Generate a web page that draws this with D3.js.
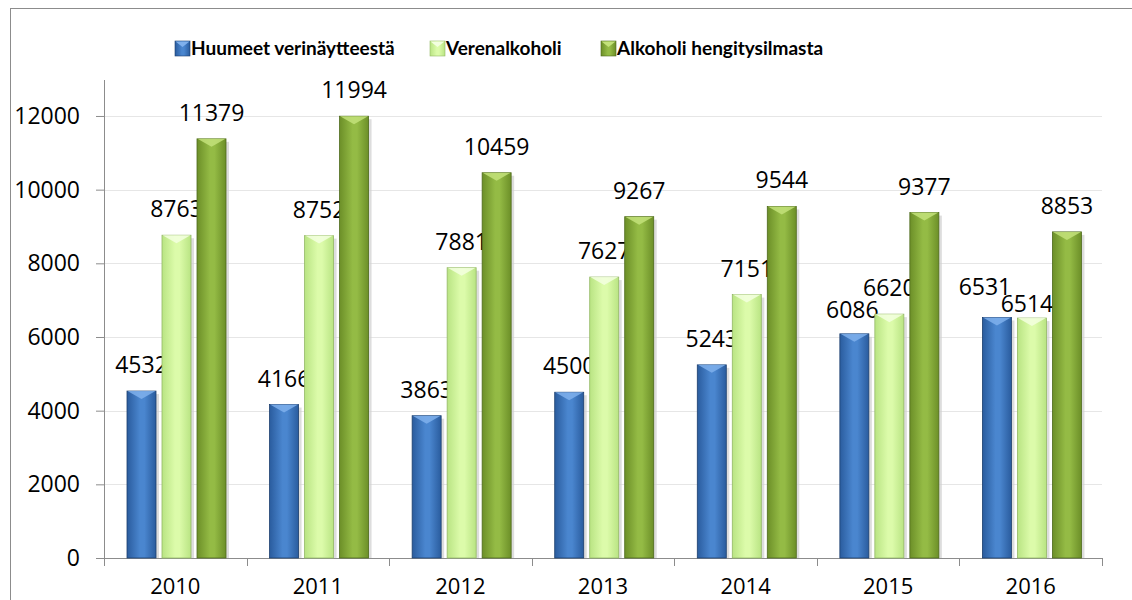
<!DOCTYPE html>
<html>
<head>
<meta charset="utf-8">
<script src="https://cdn.jsdelivr.net/npm/d3@7"></script>
<style>
  body { margin: 0; background: #fff; }
  svg { display: block; font-family: "Open Sans", Lato, sans-serif; }
</style>
</head>
<body>
<div id="chart"></div>
<script>
var years = ["2010", "2011", "2012", "2013", "2014", "2015", "2016"];
var seriesNames = ["Huumeet verinäytteestä", "Verenalkoholi", "Alkoholi hengitysilmasta"];
var huumeet = [4532, 4166, 3863, 4500, 5243, 6086, 6531];
var verenalkoholi = [8763, 8752, 7881, 7627, 7151, 6620, 6514];
var hengitys = [11379, 11994, 10459, 9267, 9544, 9377, 8853];
var yTicks = [0, 2000, 4000, 6000, 8000, 10000, 12000];

var colors = [
  { mid: "#4a86cf", edge: "#2a5c9e", stroke: "#1c3f6e", top: "#7fb0ec" },
  { mid: "#dcfbaa", edge: "#b9e483", stroke: "#94b866", top: "#f3ffe0" },
  { mid: "#94bb45", edge: "#6c8f28", stroke: "#4e6a1c", top: "#c3e27a" }
];

var W = 1132, H = 600;
var margin = { top: 80, right: 30, bottom: 42, left: 104 };
var width = 1102 - margin.left;
var height = 558 - margin.top;

var svg = d3.select("#chart").append("svg")
  .attr("width", W)
  .attr("height", H);

// outer frame
svg.append("rect")
  .attr("x", 10.5).attr("y", 8.5)
  .attr("width", W).attr("height", H)
  .attr("fill", "none").attr("stroke", "#8c8c8c");

var defs = svg.append("defs");
colors.forEach(function (c, i) {
  var g = defs.append("linearGradient").attr("id", "grad" + i)
    .attr("x1", "0%").attr("x2", "100%").attr("y1", "0%").attr("y2", "0%");
  g.append("stop").attr("offset", "0%").attr("stop-color", c.edge);
  g.append("stop").attr("offset", "45%").attr("stop-color", c.mid);
  g.append("stop").attr("offset", "60%").attr("stop-color", c.mid);
  g.append("stop").attr("offset", "100%").attr("stop-color", c.edge);
});

var chart = svg.append("g")
  .attr("transform", "translate(" + margin.left + "," + margin.top + ")");

var x = d3.scaleBand().domain(years).range([0, width]);
var y = d3.scaleLinear().domain([0, 12000]).range([height, height - 6 * 73.67]);

// gridlines
chart.selectAll(".grid")
  .data(yTicks.slice(1))
  .enter().append("line")
  .attr("x1", 0).attr("x2", width)
  .attr("y1", function (d) { return Math.round(y(d)) + 0.5; })
  .attr("y2", function (d) { return Math.round(y(d)) + 0.5; })
  .attr("stroke", "#e6e6e6");

// y axis
var yAxis = chart.append("g")
  .call(d3.axisLeft(y).tickValues(yTicks).tickSize(8).tickPadding(16).tickFormat(d3.format("d")));
yAxis.select(".domain").attr("stroke", "#8c8c8c").attr("d", "M0.5," + height + "V0");
yAxis.selectAll(".tick line").attr("stroke", "#8c8c8c");
yAxis.selectAll("text").attr("font-size", 23).attr("fill", "#000")
  .attr("font-family", "'Open Sans', sans-serif");

// x axis
var xAxis = chart.append("g").attr("transform", "translate(0," + height + ")")
  .call(d3.axisBottom(x).tickSize(0).tickPadding(20));
xAxis.select(".domain").attr("stroke", "#8c8c8c");
xAxis.selectAll("text").attr("font-size", 22).attr("fill", "#000")
  .attr("font-family", "'Open Sans', sans-serif");
chart.selectAll(".xtick")
  .data(years.concat(["end"]))
  .enter().append("line")
  .attr("x1", function (d, i) { return Math.round(i * x.bandwidth()) + 0.5; })
  .attr("x2", function (d, i) { return Math.round(i * x.bandwidth()) + 0.5; })
  .attr("y1", height).attr("y2", height + 8)
  .attr("stroke", "#8c8c8c");

var barW = 29, barGap = 6, offset = 23;
var allSeries = [huumeet, verenalkoholi, hengitys];

// label nudges where labels were moved to avoid overlap
var nudge = { "6-0": [-12, -4], "6-1": [-5, 12], "5-0": [-2, 2] };

allSeries.forEach(function (vals, s) {
  var g = chart.append("g");
  var bars = g.selectAll("g").data(vals).enter().append("g")
    .attr("transform", function (d, i) {
      return "translate(" + (x(years[i]) + offset + s * (barW + barGap)) + ",0)";
    });
  // shadow
  bars.append("rect")
    .attr("x", 3).attr("y", function (d) { return y(d) + 3; })
    .attr("width", barW).attr("height", function (d) { return height - y(d) - 3; })
    .attr("fill", "#cfcfcf").attr("opacity", 0.7);
  bars.append("rect")
    .attr("x", 0).attr("y", function (d) { return y(d); })
    .attr("width", barW).attr("height", function (d) { return height - y(d); })
    .attr("fill", "url(#grad" + s + ")")
    .attr("stroke", colors[s].stroke).attr("stroke-width", 0.8);
  // bevel on top
  bars.append("path")
    .attr("d", function (d) {
      var t = y(d);
      return "M0.5," + t + "L" + (barW - 0.5) + "," + t + "L" + (barW / 2) + "," + (t + 8) + "Z";
    })
    .attr("fill", colors[s].top).attr("opacity", 0.85);
  bars.append("text")
    .attr("x", function (d, i) { var n = nudge[i + "-" + s]; return barW / 2 + (n ? n[0] : 0); })
    .attr("y", function (d, i) { var n = nudge[i + "-" + s]; return y(d) - 18 + (n ? n[1] : 0); })
    .attr("text-anchor", "middle")
    .attr("font-size", 23)
    .attr("fill", "#000")
    .text(function (d) { return d; });
});

// legend
var legendX = [175, 430, 601];
var legend = svg.append("g");
seriesNames.forEach(function (name, i) {
  var lg = legend.append("g").attr("transform", "translate(" + legendX[i] + ",41)");
  lg.append("rect").attr("width", 15).attr("height", 15)
    .attr("fill", "url(#grad" + i + ")")
    .attr("stroke", colors[i].stroke).attr("stroke-width", 0.6);
  lg.append("path").attr("d", "M0.5,0.5L14.5,0.5L7.5,6Z").attr("fill", colors[i].top);
  lg.append("text").attr("x", 16).attr("y", 14)
    .attr("font-family", "Lato, sans-serif")
    .attr("font-size", 19).attr("font-weight", "bold").attr("fill", "#000")
    .text(name);
});
</script>
</body>
</html>
